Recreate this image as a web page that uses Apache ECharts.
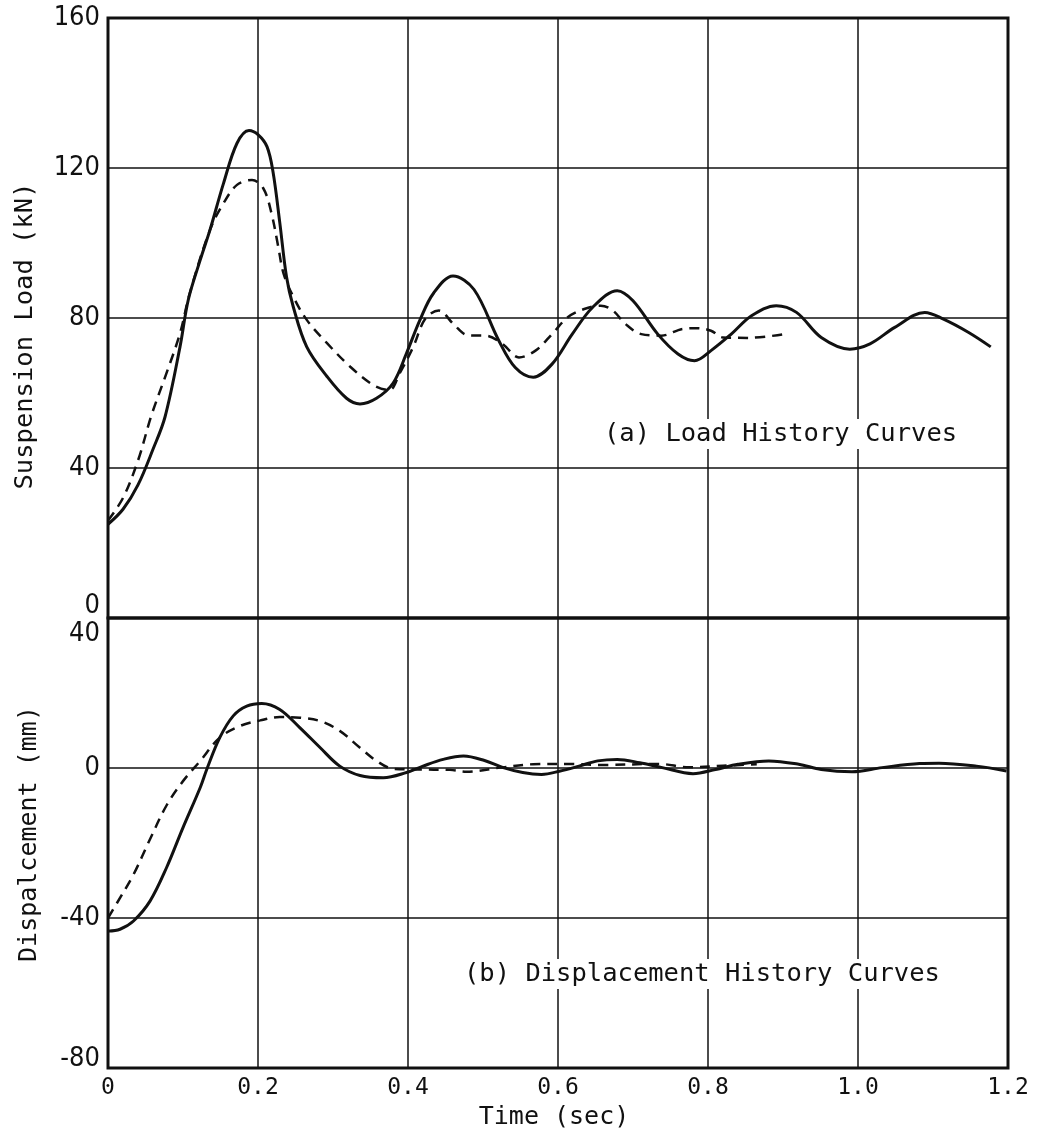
<!DOCTYPE html>
<html>
<head>
<meta charset="utf-8">
<script src="https://cdn.jsdelivr.net/npm/echarts@6/dist/echarts.min.js"></script>
<style>
html,body{margin:0;padding:0;background:#fff;}
#c{width:1044px;height:1139px;}
</style>
</head>
<body>
<div id="c"></div>
<script>
// ---- Data ----
const xTicks = [0, 0.2, 0.4, 0.6, 0.8, 1.0, 1.2];
const loadTicks = [0, 40, 80, 120, 160];
const dispTicks = [-80, -40, 0, 40];

// (a) Load history — solid curve
const loadSolidT = [0, 0.02, 0.04, 0.06, 0.076, 0.096, 0.107, 0.123, 0.136, 0.154, 0.172, 0.188, 0.200, 0.212, 0.220, 0.229, 0.238, 0.247, 0.265, 0.292, 0.318, 0.336, 0.358, 0.380, 0.398, 0.416, 0.434, 0.460, 0.488, 0.521, 0.543, 0.567, 0.592, 0.619, 0.646, 0.679, 0.700, 0.733, 0.760, 0.782, 0.804, 0.831, 0.858, 0.891, 0.918, 0.951, 0.989, 1.016, 1.049, 1.089, 1.114, 1.147, 1.177];
const loadSolidV = [25, 29, 35.5, 45, 53.6, 72.3, 84.8, 95.5, 103.5, 115.9, 126.6, 130, 128.9, 125.7, 119, 105.5, 91, 83, 72.3, 64.4, 58.6, 57.1, 58.6, 62.6, 70.6, 79.5, 86.6, 91.2, 87.6, 74, 66.8, 64.2, 67.7, 75.7, 82.8, 87.3, 84.6, 75.7, 70.4, 68.6, 71.3, 75.7, 80.6, 83.3, 81.5, 74.8, 71.7, 73.1, 77.5, 81.5, 79.7, 76.2, 72.3];

// (a) Load history — dashed curve
const loadDashT = [0, 0.02, 0.04, 0.058, 0.078, 0.096, 0.109, 0.136, 0.154, 0.172, 0.192, 0.207, 0.218, 0.227, 0.234, 0.247, 0.265, 0.292, 0.323, 0.354, 0.375, 0.389, 0.407, 0.423, 0.441, 0.461, 0.480, 0.504, 0.526, 0.548, 0.570, 0.592, 0.613, 0.635, 0.657, 0.673, 0.690, 0.711, 0.738, 0.766, 0.785, 0.804, 0.820, 0.853, 0.899];
const loadDashV = [26, 32, 42, 54.1, 65.3, 75.9, 86.6, 103.5, 110.6, 115.5, 116.8, 114.6, 107.9, 99.0, 91.9, 85.7, 79.5, 73.3, 67.0, 62.1, 60.8, 65.3, 72.3, 79.8, 82, 78.3, 75.4, 75.3, 73.1, 69.5, 71.3, 75.7, 80.2, 82.4, 83.3, 82.0, 78.4, 75.7, 75.3, 77.1, 77.3, 76.6, 74.8, 74.7, 75.6];

// (b) Displacement history — solid curve
const dispSolidT = [0, 0.016, 0.034, 0.056, 0.078, 0.100, 0.123, 0.132, 0.149, 0.167, 0.185, 0.205, 0.229, 0.256, 0.283, 0.309, 0.336, 0.367, 0.398, 0.420, 0.447, 0.474, 0.502, 0.527, 0.553, 0.578, 0.603, 0.628, 0.653, 0.679, 0.709, 0.739, 0.780, 0.810, 0.840, 0.881, 0.921, 0.951, 0.992, 1.032, 1.082, 1.108, 1.158, 1.198];
const dispSolidV = [-43.5, -43, -40.8, -35.5, -26.6, -15.9, -5.2, -0.2, 8.1, 13.9, 16.5, 17.2, 15.6, 10.7, 5.4, 0.5, -2.0, -2.6, -1.2, 0.5, 2.3, 3.2, 2.0, 0.1, -1.2, -1.7, -0.8, 0.5, 1.9, 2.3, 1.4, 0.1, -1.5, -0.4, 1.0, 1.9, 1.0, -0.4, -1.0, 0.1, 1.2, 1.3, 0.5, -0.8];

// (b) Displacement history — dashed curve
const dispDashT = [0, 0.012, 0.034, 0.056, 0.078, 0.100, 0.123, 0.149, 0.176, 0.203, 0.229, 0.256, 0.283, 0.309, 0.336, 0.358, 0.380, 0.412, 0.456, 0.478, 0.523, 0.567, 0.618, 0.660, 0.734, 0.775, 0.820, 0.865];
const dispDashV = [-40, -36, -28.4, -19, -10, -3.5, 1.9, 8.1, 11.2, 12.7, 13.6, 13.4, 12.5, 9.9, 5.4, 1.9, -0.2, -0.4, -0.5, -1.0, 0.1, 1.0, 1.1, 0.8, 1.1, 0.2, 0.6, 1.0];

const zip = (t, v) => t.map((x, i) => [x, v[i]]);

const MONO = "'DejaVu Sans Mono','Liberation Mono',monospace";
const COND = "'Liberation Sans Narrow','DejaVu Sans Condensed','Liberation Sans',sans-serif";
const INK = '#111';

const chart = echarts.init(document.getElementById('c'), null, {renderer: 'canvas'});

const gridLine = {show: true, lineStyle: {color: INK, width: 1.5}};

chart.setOption({
  backgroundColor: '#fff',
  animation: false,
  grid: [
    {left: 108, top: 18, width: 900, height: 600, show: true, borderColor: INK, borderWidth: 3, backgroundColor: 'transparent'},
    {left: 108, top: 618, width: 900, height: 450, show: true, borderColor: INK, borderWidth: 3, backgroundColor: 'transparent'}
  ],
  xAxis: [
    {gridIndex: 0, type: 'value', min: xTicks[0], max: xTicks[xTicks.length - 1], interval: 0.2,
     axisLine: {show: false}, axisTick: {show: false}, axisLabel: {show: false}, splitLine: gridLine},
    {gridIndex: 1, type: 'value', min: xTicks[0], max: xTicks[xTicks.length - 1], interval: 0.2,
     axisLine: {show: false}, axisTick: {show: false},
     axisLabel: {show: true, margin: 9, color: INK, fontFamily: MONO, fontSize: 23,
       formatter: v => (Math.abs(v) < 1e-9 ? '0' : v.toFixed(1))},
     splitLine: gridLine,
     name: 'Time (sec)', nameLocation: 'middle', nameGap: 37,
     nameTextStyle: {color: INK, fontFamily: MONO, fontSize: 25, padding: [0, 8, 0, 0]}}
  ],
  yAxis: [
    {gridIndex: 0, type: 'value', min: loadTicks[0], max: loadTicks[loadTicks.length - 1], interval: 40,
     axisLine: {show: false}, axisTick: {show: false}, splitLine: gridLine,
     axisLabel: {show: true, margin: 8, color: INK, fontFamily: COND, fontSize: 27,
       formatter: v => (v === 0 ? '{lo|0}' : String(v)),
       rich: {lo: {fontFamily: COND, fontSize: 27, color: INK, padding: [0, 0, 24, 0]}}},
     name: 'Suspension Load (kN)', nameLocation: 'middle', nameGap: 70,
     nameTextStyle: {color: INK, fontFamily: MONO, fontSize: 25.5, padding: [0, 36, 0, 0]}},
    {gridIndex: 1, type: 'value', min: dispTicks[0], max: dispTicks[dispTicks.length - 1], interval: 40,
     axisLine: {show: false}, axisTick: {show: false}, splitLine: gridLine,
     axisLabel: {show: true, margin: 8, color: INK, fontFamily: COND, fontSize: 27,
       formatter: v => (v === 40 ? '{hi|40}' : (v === -80 ? '{bt|-80}' : String(v))),
       rich: {
         hi: {fontFamily: COND, fontSize: 27, color: INK, padding: [32, 0, 0, 0]},
         bt: {fontFamily: COND, fontSize: 27, color: INK, padding: [0, 0, 18, 0]}
       }},
     name: 'Dispalcement (mm)', nameLocation: 'middle', nameGap: 66,
     nameTextStyle: {color: INK, fontFamily: MONO, fontSize: 25, padding: [0, 0, 0, 18]}}
  ],
  graphic: [
    {type: 'text', left: 600, top: 419, z: 10,
     style: {text: '(a) Load History Curves', font: "25.5px 'DejaVu Sans Mono','Liberation Mono',monospace", fill: INK,
       backgroundColor: '#fff', padding: [2, 4, 2, 4]}},
    {type: 'text', left: 460, top: 959, z: 10,
     style: {text: '(b) Displacement History Curves', font: "25.5px 'DejaVu Sans Mono','Liberation Mono',monospace", fill: INK,
       backgroundColor: '#fff', padding: [2, 4, 2, 4]}}
  ],
  series: [
    {type: 'line', xAxisIndex: 0, yAxisIndex: 0, data: zip(loadSolidT, loadSolidV), smooth: 0.35,
     showSymbol: false, lineStyle: {color: INK, width: 3}},
    {type: 'line', xAxisIndex: 0, yAxisIndex: 0, data: zip(loadDashT, loadDashV), smooth: 0.35,
     showSymbol: false, lineStyle: {color: INK, width: 2.5, type: [10, 7]}},
    {type: 'line', xAxisIndex: 1, yAxisIndex: 1, data: zip(dispSolidT, dispSolidV), smooth: 0.35,
     showSymbol: false, lineStyle: {color: INK, width: 3}},
    {type: 'line', xAxisIndex: 1, yAxisIndex: 1, data: zip(dispDashT, dispDashV), smooth: 0.35,
     showSymbol: false, lineStyle: {color: INK, width: 2.5, type: [10, 7]}}
  ]
});
</script>
</body>
</html>
